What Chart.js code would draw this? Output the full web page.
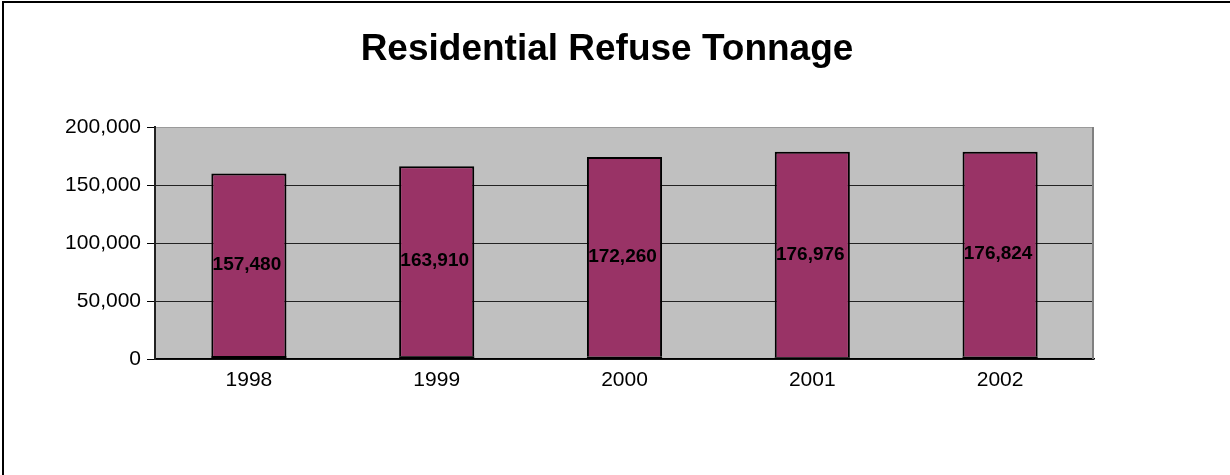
<!DOCTYPE html>
<html>
<head>
<meta charset="utf-8">
<script src="https://cdn.jsdelivr.net/npm/chart.js@4/dist/chart.umd.min.js"></script>
<style>
  html, body { margin: 0; padding: 0; background: #fff; }
  canvas { display: block; }
</style>
</head>
<body>
<canvas id="c" width="1230" height="475"></canvas>
<script>
// ---- Data ----
const years = ['1998', '1999', '2000', '2001', '2002'];
const baseTons = [2500, 2300, 1900, 1600, 1900];           // thin dark segment at bar bottoms (estimated)
const refuseTons = [157480, 163910, 172260, 176976, 176824]; // labelled values
const yMin = 0;
const yMax = 200000;
const yStep = 50000;
const chartTitle = 'Residential Refuse Tonnage';

const FONT = '"Liberation Sans", Arial, Helvetica, sans-serif';

const framePlugin = {
  id: 'frame',
  beforeDraw(chart) {
    const { ctx, chartArea: a } = chart;
    ctx.save();
    ctx.fillStyle = '#C0C0C0';
    ctx.fillRect(a.left, a.top, a.right - a.left, a.bottom - a.top);
    ctx.restore();
  },
  beforeDatasetsDraw(chart) {
    const { ctx, chartArea: a } = chart;
    ctx.save();
    ctx.strokeStyle = '#808080';
    ctx.lineWidth = 2;
    ctx.beginPath();
    ctx.moveTo(a.right - 1, a.top);
    ctx.lineTo(a.right - 1, a.bottom);
    ctx.stroke();
    ctx.restore();
  },
  afterDraw(chart) {
    const { ctx } = chart;
    ctx.save();
    // outer chart border (left & top visible)
    ctx.fillStyle = '#000';
    ctx.fillRect(2, 1, 2, chart.height);
    ctx.fillRect(2, 1, chart.width, 2);
    // title
    ctx.font = 'bold 37px ' + FONT;
    ctx.textAlign = 'center';
    ctx.textBaseline = 'alphabetic';
    ctx.fillStyle = '#000';
    ctx.fillText(chartTitle, 607, 60);
    // value labels
    const meta = chart.getDatasetMeta(1);
    ctx.font = 'bold 19px ' + FONT;
    ctx.textBaseline = 'middle';
    meta.data.forEach((bar, i) => {
      const v = chart.data.datasets[1].data[i];
      const y = (bar.y + bar.base) / 2;
      ctx.fillText(v.toLocaleString('en-US'), bar.x - 2, y);
    });
    ctx.restore();
  }
};

new Chart(document.getElementById('c'), {
  type: 'bar',
  data: {
    labels: years,
    datasets: [
      {
        label: 'base',
        data: baseTons,
        backgroundColor: '#000000',
        borderColor: '#000000',
        borderWidth: 0,
        barPercentage: 0.4,
        categoryPercentage: 1.0
      },
      {
        label: 'Residential Refuse',
        data: refuseTons,
        backgroundColor: '#993366',
        borderColor: '#000000',
        borderWidth: 2,
        barPercentage: 0.4,
        categoryPercentage: 1.0
      }
    ]
  },
  options: {
    responsive: false,
    devicePixelRatio: 1,
    animation: false,
    layout: { padding: { left: 0, right: 136, top: 127, bottom: 76 } },
    plugins: {
      legend: { display: false },
      title: { display: false },
      tooltip: { enabled: false }
    },
    scales: {
      x: {
        stacked: true,
        grid: { display: false, drawTicks: false },
        border: { display: true, color: '#000', width: 1.5 },
        ticks: {
          color: '#000',
          font: { family: FONT, size: 21 },
          padding: 9,
          maxRotation: 0
        },
        afterFit(scale) { scale.height = 40; }
      },
      y: {
        stacked: true,
        min: yMin,
        max: yMax,
        grid: {
          color: (ctx) => (ctx.tick && ctx.tick.value === yMax) ? '#9a9a9a' : '#222',
          tickColor: '#000',
          lineWidth: 1,
          tickLength: 8
        },
        border: { display: true, color: '#222', width: 2 },
        ticks: {
          stepSize: yStep,
          color: '#000',
          font: { family: FONT, size: 21 },
          padding: 6,
          callback: (v) => Number(v).toLocaleString('en-US')
        },
        afterFit(scale) { scale.width = 155; }
      }
    }
  },
  plugins: [framePlugin]
});
</script>
</body>
</html>
